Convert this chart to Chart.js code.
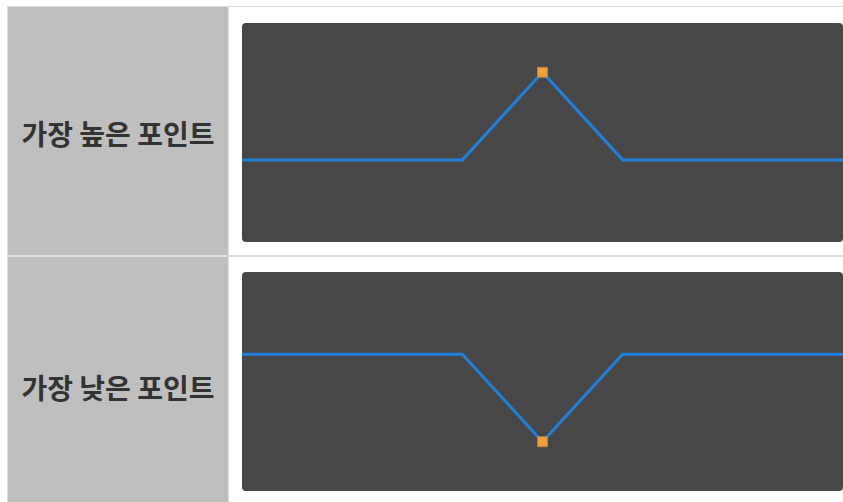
<!DOCTYPE html>
<html>
<head>
<meta charset="utf-8">
<script src="https://cdn.jsdelivr.net/npm/chart.js@4.4.0/dist/chart.umd.min.js"></script>
<style>
  html, body { margin: 0; padding: 0; background: #ffffff; width: 843px; height: 502px; overflow: hidden; }
  .frame { position: absolute; left: 7px; top: 6px; width: 900px; height: 520px; background: #dedede; }
  .label { position: absolute; left: 8px; width: 220px; background: #bfbfbf;
           display: flex; align-items: center; justify-content: center;
           font-family: "Noto Sans CJK KR", "Noto Sans", sans-serif; font-weight: bold;
           font-size: 28px; color: #333333; }
  .cell { position: absolute; left: 229px; width: 700px; background: #ffffff; }
  .box { position: absolute; left: 242px; width: 601px; height: 219px; background: #474747; border-radius: 4px; overflow: hidden; }
  canvas { display: block; }
</style>
</head>
<body>
<div class="frame"></div>
<div class="label" style="top:7px;height:248px;padding-top:4px;box-sizing:border-box;">가장 높은 포인트</div>
<div class="cell" style="top:7px;height:248px;"></div>
<div class="label" style="top:257px;height:260px;">가장 낮은 포인트</div>
<div class="cell" style="top:257px;height:260px;"></div>
<div class="box" style="top:23px;"><canvas id="highChart" width="601" height="219"></canvas></div>
<div class="box" style="top:272px;"><canvas id="lowChart" width="601" height="219"></canvas></div>
<script>
var xValues = [0, 11, 15, 19, 30];
var highValues = [37.5, 37.5, 77.5, 37.5, 37.5];
var lowValues = [62.5, 62.5, 22.5, 62.5, 62.5];
var markIndex = 2;

function drawChart(canvasId, values) {
    var ctx = document.getElementById(canvasId).getContext('2d');
    var points = xValues.map(function (x, i) { return { x: x, y: values[i] }; });
    new Chart(ctx, {
        type: 'line',
        data: {
            datasets: [{
                data: points,
                borderColor: '#1f80dc',
                borderWidth: 3,
                tension: 0,
                pointStyle: 'rect',
                pointRadius: points.map(function (p, i) { return i === markIndex ? 7 : 0; }),
                pointBackgroundColor: '#f0a03c',
                pointBorderColor: '#c8843a',
                pointBorderWidth: 1,
                clip: false
            }]
        },
        options: {
            responsive: false,
            animation: false,
            layout: { padding: 0 },
            plugins: { legend: { display: false }, tooltip: { enabled: false } },
            scales: {
                x: { type: 'linear', display: false, min: 0, max: 30 },
                y: { display: false, min: 0, max: 100 }
            }
        }
    });
}

drawChart('highChart', highValues);
drawChart('lowChart', lowValues);
</script>
</body>
</html>
